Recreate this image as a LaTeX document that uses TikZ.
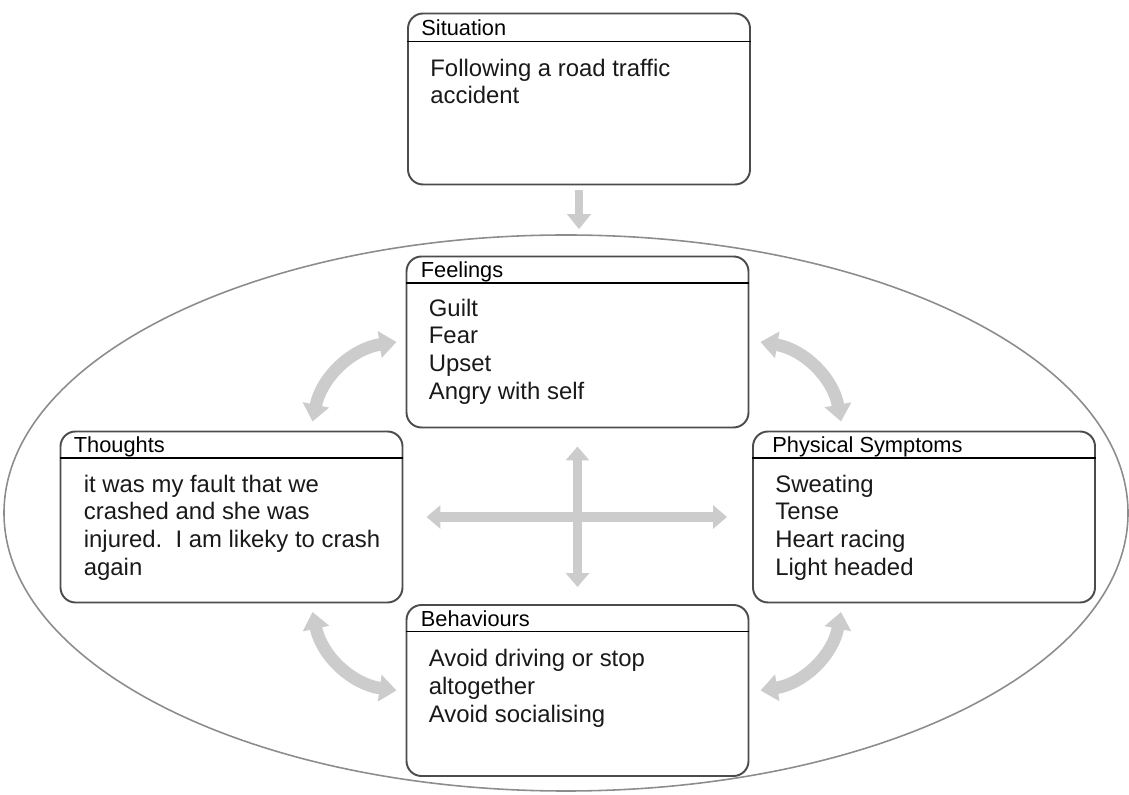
\documentclass[tikz,border=0pt]{standalone}
\usepackage{fontspec}
\setmainfont{Liberation Sans}
\usetikzlibrary{positioning,arrows.meta,calc,shapes.geometric}
\tikzset{
  card/.style={draw=black!70, line width=1.1pt, rounded corners=0.3cm,
    minimum width=6.84cm, minimum height=3.42cm, inner sep=0pt},
  cardhead/.style={anchor=base west, inner sep=0pt, font=\fontsize{12.4}{14}\selectfont},
  cardtext/.style={anchor=north west, inner sep=0pt, align=left,
    font=\fontsize{13.6}{15.8}\selectfont, text=black!90},
  cardrule/.style={line width=0.9pt},
  cycleline/.style={draw=black!45, line width=0.9pt, ellipse, inner sep=0pt,
    minimum width=22.48cm, minimum height=11.12cm},
  flowarrow/.style={line width=0.17cm, draw=black!20, -{Triangle[width=0.46cm,length=0.3cm]}},
  crossarrow/.style={line width=0.19cm, draw=black!20,
    {Triangle[width=0.46cm,length=0.28cm]}-{Triangle[width=0.46cm,length=0.28cm]}},
  cyclearrow/.style={line width=0.25cm, draw=black!20,
    {Triangle[width=0.52cm,length=0.34cm]}-{Triangle[width=0.52cm,length=0.34cm]}},
}

\begin{document}
\begin{tikzpicture}
  \useasboundingbox (0,0) rectangle (22.58,15.88);
  % ellipse round the cycle
  \node[cycleline] (cycle) at (11.32,5.62) {};
  % situation
  \node[card] (sit) at (11.58,13.9) {};
  \draw[cardrule] ($(sit.north west)+(0,-0.58)$) -- ($(sit.north east)+(0,-0.58)$);
  \node[cardhead] (sithead) at ($(sit.north west)+(0.28,-0.45)$) {Situation};
  \node[cardtext] (sittext) at ($(sit.north west)+(0.46,-0.92)$) {Following a road traffic\\accident};
  % feelings
  \node[card] (feel) at (11.55,9.04) {};
  \draw[cardrule] ($(feel.north west)+(0,-0.55)$) -- ($(feel.north east)+(0,-0.55)$);
  \node[cardhead] (feelhead) at ($(feel.north west)+(0.3,-0.44)$) {Feelings};
  \node[cardtext] (feeltext) at ($(feel.north west)+(0.46,-0.86)$) {Guilt\\Fear\\Upset\\Angry with self};
  % thoughts
  \node[card] (th) at (4.63,5.54) {};
  \draw[cardrule] ($(th.north west)+(0,-0.55)$) -- ($(th.north east)+(0,-0.55)$);
  \node[cardhead] (thhead) at ($(th.north west)+(0.28,-0.44)$) {Thoughts};
  \node[cardtext] (thtext) at ($(th.north west)+(0.48,-0.88)$) {it was my fault that we\\crashed and she was\\injured.\ \ I am likeky to crash\\again};
  % physical symptoms
  \node[card] (ph) at (18.48,5.54) {};
  \draw[cardrule] ($(ph.north west)+(0,-0.55)$) -- ($(ph.north east)+(0,-0.55)$);
  \node[cardhead] (phhead) at ($(ph.north west)+(0.4,-0.44)$) {Physical Symptoms};
  \node[cardtext] (phtext) at ($(ph.north west)+(0.46,-0.88)$) {Sweating\\Tense\\Heart racing\\Light headed};
  % behaviours
  \node[card] (beh) at (11.55,2.07) {};
  \draw[cardrule] ($(beh.north west)+(0,-0.55)$) -- ($(beh.north east)+(0,-0.55)$);
  \node[cardhead] (behhead) at ($(beh.north west)+(0.3,-0.44)$) {Behaviours};
  \node[cardtext] (behtext) at ($(beh.north west)+(0.46,-0.9)$) {Avoid driving or stop\\altogether\\Avoid socialising};
  % arrows
  \draw[flowarrow, shorten <=0.1cm, shorten >=0.1cm] (sit.south) -- (sit.south |- cycle.north);
  \draw[crossarrow, shorten <=0.36cm, shorten >=0.34cm] (feel.south) -- (beh.north);
  \draw[crossarrow, shorten <=0.46cm, shorten >=0.5cm] (th.east) -- (ph.west);
  \coordinate (tf1) at ($(th.north)+(1.62,0.18)$);
  \coordinate (tf2) at ($(feel.west)+(-0.18,0)$);
  \coordinate (fp1) at ($(feel.east)+(0.22,0)$);
  \coordinate (fp2) at ($(ph.north)+(-1.66,0.18)$);
  \coordinate (pb1) at ($(ph.south)+(-1.66,-0.17)$);
  \coordinate (pb2) at ($(beh.east)+(0.22,0)$);
  \coordinate (bt1) at ($(beh.west)+(-0.18,0)$);
  \coordinate (bt2) at ($(th.south)+(1.62,-0.17)$);
  \foreach \a/\b in {tf1/tf2, fp1/fp2, pb1/pb2, bt1/bt2}
    \draw[cyclearrow] (\a) to[bend left=35] (\b);
\end{tikzpicture}
\end{document}
